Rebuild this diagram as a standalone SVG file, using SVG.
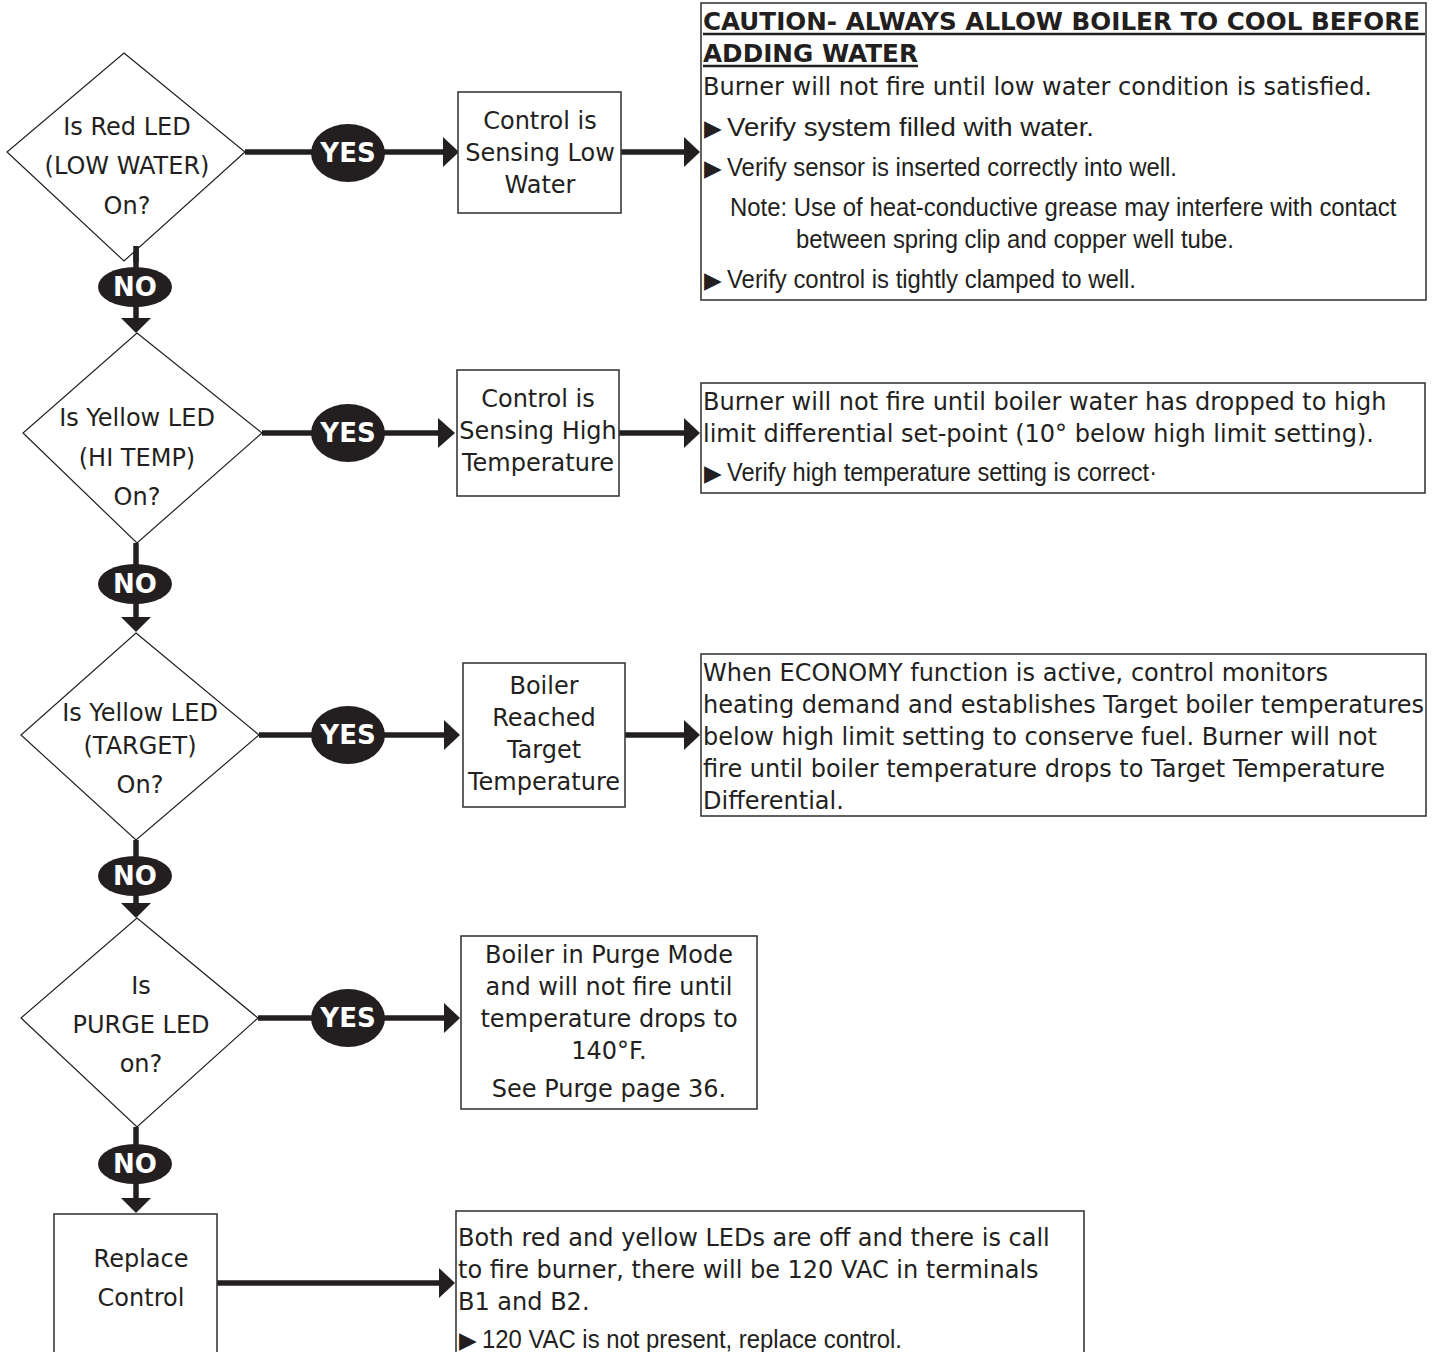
<svg xmlns="http://www.w3.org/2000/svg" width="1437" height="1352" viewBox="0 0 1437 1352">
<style>
.bg{fill:#fff}
.dia{fill:#fff;stroke:#231f20;stroke-width:1.2}
.box{fill:#fff;stroke:#3a3a3a;stroke-width:1.6}
.t{font-family:"DejaVu Sans",Verdana,sans-serif;font-size:24px;fill:#231f20}
.c{text-anchor:middle}
.h{font-family:"DejaVu Sans",Verdana,sans-serif;font-size:24px;font-weight:bold;fill:#231f20}
.n{font-family:"Liberation Sans",Arial,sans-serif;font-size:26px;fill:#231f20}
.bul{font-family:"DejaVu Sans",sans-serif;font-size:23px;fill:#231f20}
.ln{stroke:#231f20;stroke-width:5.5;fill:none}
.ah{fill:#231f20}
.lbl{fill:#231f20}
.lt{font-family:"DejaVu Sans",Verdana,sans-serif;font-size:26px;font-weight:bold;fill:#fff;text-anchor:middle}
.ul{stroke:#231f20;stroke-width:2.5}
</style>
<rect class="bg" x="0" y="0" width="1437" height="1352"/>

<g id="connectors">
  <line class="ln" x1="245" y1="152" x2="445" y2="152"/>
  <polygon class="ah" points="443,137 459,152 443,167"/>
  <line class="ln" x1="621" y1="152" x2="686" y2="152"/>
  <polygon class="ah" points="684,137 700,152 684,167"/>
  <line class="ln" x1="136" y1="246" x2="136" y2="320"/>
  <polygon class="ah" points="121,318 151,318 136,333"/>
  <line class="ln" x1="262" y1="433" x2="440" y2="433"/>
  <polygon class="ah" points="438,418 455,433 438,448"/>
  <line class="ln" x1="619" y1="433" x2="686" y2="433"/>
  <polygon class="ah" points="684,418 700,433 684,448"/>
  <line class="ln" x1="136" y1="543" x2="136" y2="619"/>
  <polygon class="ah" points="121,617 151,617 136,632"/>
  <line class="ln" x1="259" y1="735" x2="446" y2="735"/>
  <polygon class="ah" points="444,720 460,735 444,750"/>
  <line class="ln" x1="625" y1="735" x2="686" y2="735"/>
  <polygon class="ah" points="684,720 700,735 684,750"/>
  <line class="ln" x1="136" y1="840" x2="136" y2="905"/>
  <polygon class="ah" points="121,903 151,903 136,918"/>
  <line class="ln" x1="258" y1="1018" x2="446" y2="1018"/>
  <polygon class="ah" points="444,1003 460,1018 444,1033"/>
  <line class="ln" x1="136" y1="1127" x2="136" y2="1200"/>
  <polygon class="ah" points="121,1198 151,1198 136,1213"/>
  <line class="ln" x1="217" y1="1283" x2="441" y2="1283"/>
  <polygon class="ah" points="439,1268 455,1283 439,1298"/>

  <g id="yes1"><ellipse class="lbl" cx="348" cy="153" rx="37" ry="29"/><text class="lt" x="348" y="162">YES</text></g>
  <g id="yes2"><ellipse class="lbl" cx="348" cy="433" rx="37" ry="29"/><text class="lt" x="348" y="442">YES</text></g>
  <g id="yes3"><ellipse class="lbl" cx="348" cy="735" rx="37" ry="29"/><text class="lt" x="348" y="744">YES</text></g>
  <g id="yes4"><ellipse class="lbl" cx="348" cy="1018" rx="37" ry="29"/><text class="lt" x="348" y="1027">YES</text></g>
  <g id="no1"><ellipse class="lbl" cx="135" cy="287" rx="37" ry="20"/><text class="lt" x="135" y="296">NO</text></g>
  <g id="no2"><ellipse class="lbl" cx="135" cy="584" rx="37" ry="20"/><text class="lt" x="135" y="593">NO</text></g>
  <g id="no3"><ellipse class="lbl" cx="135" cy="876" rx="37" ry="20"/><text class="lt" x="135" y="885">NO</text></g>
  <g id="no4"><ellipse class="lbl" cx="135" cy="1164" rx="37" ry="20"/><text class="lt" x="135" y="1173">NO</text></g>
</g>

<g id="d1">
  <polygon class="dia" points="124,53 245,152 124,261 7,152"/>
  <text class="t c" x="127" y="135">Is Red LED</text>
  <text class="t c" x="127" y="174">(LOW WATER)</text>
  <text class="t c" x="127" y="214">On?</text>
</g>
<line class="ln" x1="136" y1="246" x2="136" y2="262"/>

<g id="b1">
  <rect class="box" x="458" y="92" width="163" height="121"/>
  <text class="t c" x="540" y="129">Control is</text>
  <text class="t c" x="540" y="161">Sensing Low</text>
  <text class="t c" x="540" y="193">Water</text>
</g>

<g id="r1">
  <rect class="box" x="701" y="3" width="725" height="297"/>
  <text class="h" x="703" y="30" textLength="717" lengthAdjust="spacingAndGlyphs">CAUTION- ALWAYS ALLOW BOILER TO COOL BEFORE</text>
  <line class="ul" x1="703" y1="34" x2="1425" y2="34"/>
  <text class="h" x="703" y="62" textLength="215" lengthAdjust="spacingAndGlyphs">ADDING WATER</text>
  <line class="ul" x1="703" y1="66" x2="918" y2="66"/>
  <text class="t" x="703" y="95">Burner will not fire until low water condition is satisfied.</text>
  <text class="bul" x="704" y="136">▶</text>
  <text class="n" x="727" y="136" textLength="367" lengthAdjust="spacingAndGlyphs">Verify system filled with water.</text>
  <text class="bul" x="704" y="176">▶</text>
  <text class="n" x="727" y="176" textLength="450" lengthAdjust="spacingAndGlyphs">Verify sensor is inserted correctly into well.</text>
  <text class="n" transform="translate(730,216) scale(0.85,1)" x="0" y="0" textLength="784" lengthAdjust="spacingAndGlyphs">Note: Use of heat-conductive grease may interfere with contact</text>
  <text class="n" x="796" y="248" textLength="438" lengthAdjust="spacingAndGlyphs">between spring clip and copper well tube.</text>
  <text class="bul" x="704" y="288">▶</text>
  <text class="n" x="727" y="288" textLength="409" lengthAdjust="spacingAndGlyphs">Verify control is tightly clamped to well.</text>
</g>

<g id="d2">
  <polygon class="dia" points="137,333 262,433 137,543 23,433"/>
  <text class="t c" x="137" y="426">Is Yellow LED</text>
  <text class="t c" x="137" y="466">(HI TEMP)</text>
  <text class="t c" x="137" y="505">On?</text>
</g>

<g id="b2">
  <rect class="box" x="457" y="370" width="162" height="126"/>
  <text class="t c" x="538" y="407">Control is</text>
  <text class="t c" x="538" y="439">Sensing High</text>
  <text class="t c" x="538" y="471">Temperature</text>
</g>

<g id="r2">
  <rect class="box" x="701" y="383" width="724" height="110"/>
  <text class="t" x="703" y="410">Burner will not fire until boiler water has dropped to high</text>
  <text class="t" x="703" y="442">limit differential set-point (10° below high limit setting).</text>
  <text class="bul" x="704" y="481">▶</text>
  <text class="n" x="727" y="481" textLength="430" lengthAdjust="spacingAndGlyphs">Verify high temperature setting is correct·</text>
</g>

<g id="d3">
  <polygon class="dia" points="136,633 259,735 136,840 21,735"/>
  <text class="t c" x="140" y="721">Is Yellow LED</text>
  <text class="t c" x="140" y="754">(TARGET)</text>
  <text class="t c" x="140" y="793">On?</text>
</g>

<g id="b3">
  <rect class="box" x="463" y="663" width="162" height="144"/>
  <text class="t c" x="544" y="694">Boiler</text>
  <text class="t c" x="544" y="726">Reached</text>
  <text class="t c" x="544" y="758">Target</text>
  <text class="t c" x="544" y="790">Temperature</text>
</g>

<g id="r3">
  <rect class="box" x="701" y="654" width="725" height="162"/>
  <text class="t" x="703" y="681">When ECONOMY function is active, control monitors</text>
  <text class="t" x="703" y="713">heating demand and establishes Target boiler temperatures</text>
  <text class="t" x="703" y="745">below high limit setting to conserve fuel. Burner will not</text>
  <text class="t" x="703" y="777">fire until boiler temperature drops to Target Temperature</text>
  <text class="t" x="703" y="809">Differential.</text>
</g>

<g id="d4">
  <polygon class="dia" points="137,918 258,1018 137,1127 21,1018"/>
  <text class="t c" x="141" y="994">Is</text>
  <text class="t c" x="141" y="1033">PURGE LED</text>
  <text class="t c" x="141" y="1072">on?</text>
</g>

<g id="b4">
  <rect class="box" x="461" y="936" width="296" height="173"/>
  <text class="t c" x="609" y="963">Boiler in Purge Mode</text>
  <text class="t c" x="609" y="995">and will not fire until</text>
  <text class="t c" x="609" y="1027">temperature drops to</text>
  <text class="t c" x="609" y="1059">140°F.</text>
  <text class="t c" x="609" y="1097">See Purge page 36.</text>
</g>

<g id="b5">
  <rect class="box" x="54" y="1214" width="163" height="150"/>
  <text class="t c" x="141" y="1267">Replace</text>
  <text class="t c" x="141" y="1306">Control</text>
</g>

<g id="r5">
  <rect class="box" x="456" y="1211" width="628" height="150"/>
  <text class="t" x="458" y="1246">Both red and yellow LEDs are off and there is call</text>
  <text class="t" x="458" y="1278">to fire burner, there will be 120 VAC in terminals</text>
  <text class="t" x="458" y="1310">B1 and B2.</text>
  <text class="bul" x="459" y="1348">▶</text>
  <text class="n" x="482" y="1348" textLength="420" lengthAdjust="spacingAndGlyphs">120 VAC is not present, replace control.</text>
</g>
</svg>
